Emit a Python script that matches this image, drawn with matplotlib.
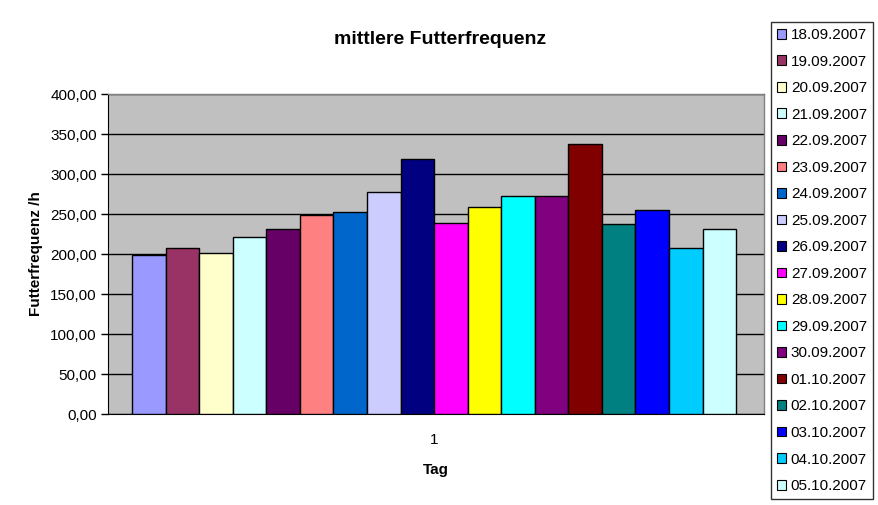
import matplotlib
matplotlib.use("Agg")
import matplotlib.pyplot as plt
from matplotlib.patches import Patch
from matplotlib.ticker import FuncFormatter

plt.rcParams['font.family'] = ['Liberation Sans', 'DejaVu Sans']

dates = ["18.09.2007", "19.09.2007", "20.09.2007", "21.09.2007", "22.09.2007",
         "23.09.2007", "24.09.2007", "25.09.2007", "26.09.2007", "27.09.2007",
         "28.09.2007", "29.09.2007", "30.09.2007", "01.10.2007", "02.10.2007",
         "03.10.2007", "04.10.2007", "05.10.2007"]
values = [199, 208, 201, 221, 231, 249, 253, 278, 319, 239,
          259, 273, 273, 337, 238, 255, 208, 231]
colors = ["#9999FF", "#993366", "#FFFFCC", "#CCFFFF", "#660066", "#FF8080",
          "#0066CC", "#CCCCFF", "#000080", "#FF00FF", "#FFFF00", "#00FFFF",
          "#800080", "#800000", "#008080", "#0000FF", "#00CCFF", "#CCFFFF"]
category = ["1"]
yticks = [0, 50, 100, 150, 200, 250, 300, 350, 400]

W, H = 879, 505
fig = plt.figure(figsize=(W / 100, H / 100), dpi=100)
fig.patch.set_facecolor("white")
ax = fig.add_axes([108 / W, 1 - 414 / H, (764 - 108) / W, (414 - 94) / H])
ax.set_facecolor("#C0C0C0")

n = len(values)
xs = [i - (n - 1) / 2 for i in range(n)]
ax.bar(xs, values, width=1.0, color=colors, edgecolor="black", linewidth=1.0, zorder=3)

ax.set_ylim(0, 400)
ax.set_xlim(-9.72, 9.83)
ax.set_yticks(yticks)
ax.yaxis.set_major_formatter(FuncFormatter(lambda v, p: f"{v:.2f}".replace(".", ",")))
ax.yaxis.grid(True, color="black", linewidth=1.0, zorder=1)
ax.set_axisbelow(True)
ax.set_xticks([0])
ax.set_xticklabels(category)
ax.tick_params(axis="x", length=0, labelsize=11, pad=14)
ax.tick_params(axis="y", length=5, width=1, direction="out", labelsize=11, pad=3)

for s in ["top", "right"]:
    ax.spines[s].set_color("#808080")
    ax.spines[s].set_linewidth(1.0)
ax.spines["left"].set_color("black")
ax.spines["bottom"].set_color("black")

ax.set_xlabel("Tag", fontsize=11, fontweight="bold", labelpad=11)
ax.set_ylabel("Futterfrequenz /h", fontsize=11, fontweight="bold", labelpad=5)
fig.text(440 / W, 1 - 40 / H, "mittlere Futterfrequenz", fontsize=14,
         fontweight="bold", ha="center", va="center")

handles = [Patch(facecolor=c, edgecolor="black", linewidth=0.8) for c in colors]
leg = fig.legend(handles, dates, loc="upper left",
                 bbox_to_anchor=(771 / W, 1 - 22 / H), fontsize=11,
                 frameon=True, fancybox=False, edgecolor="black",
                 handlelength=0.6, handleheight=0.6, handletextpad=0.3,
                 labelspacing=0.82, borderpad=0.4, borderaxespad=0)
leg.get_frame().set_linewidth(1.0)

fig.savefig("out.png", dpi=100)
